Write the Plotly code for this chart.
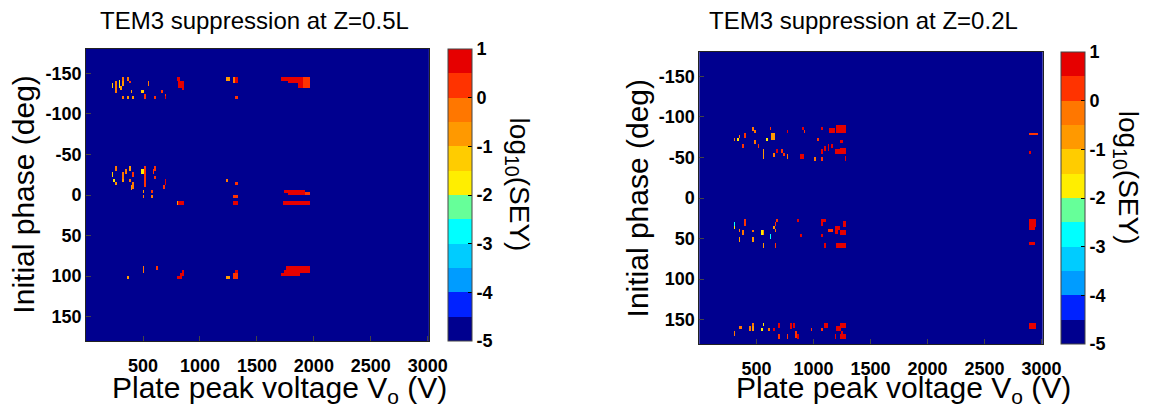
import numpy as np
import plotly.graph_objects as go

# ---------------- grid of the simulation (voltage x phase) ----------------
V_MIN, V_MAX, DV = 0, 3000, 15
PH_MIN, PH_MAX, DPH = -180, 180, 2

# log10(SEY) levels used for the coloured spots
R, RO, O, LO, G, Y, C = 0.75, 0.25, -0.25, -0.75, -1.25, -1.75, -2.75
BG = -4.75  # suppressed (background) level

# spots: (V_low, V_high, phase_low, phase_high, log10 SEY)
spots_z05 = [
    # phase ~ -140
    (227, 244, -138, -133, G), (250, 262, -139, -132, O), (279, 290, -141.6, -133, Y),
    (296, 308, -134, -130, LO), (308, 320, -145.7, -139, O), (320, 330, -139, -134, LO),
    (262, 273, -131, -126, O), (354, 366, -145.7, -140, O), (371, 383, -141, -138, RO),
    (394, 405, -130, -126, LO), (540, 552, -139, -134, O), (487, 504, -130, -126, G),
    (308, 320, -122, -118, O), (354, 366, -122, -118, LO), (406, 417, -122, -118, LO),
    (504, 515, -125, -118, RO), (602, 614, -122, -118, RO), (660, 671, -130, -126, RO),
    (683, 694, -125, -118, RO), (694, 706, -122, -118, R),
    (798, 827, -145.7, -139, R), (815, 862, -140.8, -133, R), (844, 862, -134, -130, R),
    (1236, 1254, -145.7, -140, LO), (1283, 1298, -145.7, -138, O), (1298, 1335, -145.7, -138, R),
    (1300, 1335, -122, -118, RO),
    (1715, 1966, -145.7, -141, R), (1767, 1966, -141, -138.5, R), (1865, 1966, -138.5, -133, R),
    (1905, 1966, -145.7, -133, RO),
    # phase ~ -20
    (250, 267, -35, -30.6, O), (380, 397, -35, -30.6, LO), (221, 233, -27, -21.6, G),
    (233, 244, -20, -15, Y), (262, 273, -16, -11, LO), (308, 325, -27, -18, O),
    (320, 330, -20, -15, LO), (342, 354, -31, -26, O), (371, 383, -20, -15, O),
    (383, 400, -12, -6, LO), (400, 412, -27, -21.6, RO), (406, 423, -16, -7, O),
    (487, 510, -31, -26, Y), (504, 521, -35.5, -10.9, RO), (498, 515, -6.8, -2.7, LO),
    (498, 510, 0.6, 4.7, O), (567, 579, -6.8, -2.7, RO), (567, 579, 0.6, 4.7, O),
    (579, 590, -31, -26, RO), (602, 614, -35.5, -30.6, RO), (602, 614, -23, -20, RO),
    (683, 700, -20, -11, R), (677, 689, -12, -7, RO),
    (798, 815, 8.8, 13, LO), (815, 862, 8.8, 13, R),
    (1236, 1248, -20, -15, O), (1306, 1335, -15, -11, RO), (1283, 1335, 0.6, 4.7, RO),
    (1283, 1335, 8.8, 13, R),
    (1744, 1917, -6.8, -2.7, R), (1767, 1966, -3.5, 0.6, R), (1917, 1966, -3.5, 0.6, RO),
    (1727, 1966, 8.8, 13, R),
    # phase ~ +95
    (498, 510, 87.8, 96, O), (608, 620, 87.8, 92.7, RO), (360, 377, 100, 104, LO),
    (844, 862, 92.7, 96.8, R), (821, 862, 96, 100, R), (798, 844, 100, 104, R),
    (1236, 1254, 100, 104, LO), (1300, 1335, 92.7, 97, R), (1283, 1335, 97, 104, RO),
    (1756, 1966, 87.8, 96, R), (1738, 1966, 92, 96, R), (1715, 1880, 96, 100, R),
]

spots_z02 = [
    # phase ~ -70
    (460, 472, -88.8, -81.8, O), (477, 489, -85, -80, O), (616, 633, -89, -84, RO),
    (633, 656, -80, -73, LO), (760, 771, -85, -80, R), (898, 915, -89, -84, R),
    (915, 926, -84, -80, RO), (1058, 1070, -89, -85, R), (1145, 1191, -86, -80, R),
    (1202, 1295, -89.6, -79.7, R),
    (293, 304, -74, -70.6, O), (328, 345, -74, -70.6, Y), (339, 356, -78, -74, O),
    (397, 408, -79, -74, RO), (477, 489, -71, -66, O), (506, 518, -66, -62, RO),
    (368, 385, -66, -62, RO), (587, 604, -74, -70.6, Y), (552, 564, -61, -49, LO),
    (650, 662, -56, -50, O), (673, 690, -61, -57, R), (714, 725, -59, -55, RO),
    (737, 748, -57, -53, RO), (760, 777, -54, -49, O), (886, 915, -54, -49, R),
    (1012, 1024, -50, -46, O), (1030, 1041, -74, -70, RO), (1070, 1087, -50, -46, RO),
    (1058, 1076, -60, -54, R), (1099, 1110, -65, -58, R), (1128, 1145, -66, -58, R),
    (1156, 1168, -66, -62, R), (1191, 1295, -59, -54, R), (1231, 1295, -62, -59, R),
    (1231, 1254, -71, -67, R), (1272, 1295, -51, -46, R),
    (2895, 2970, -81, -78, RO), (2889, 2906, -58, -54, R),
    # phase ~ +40
    (305, 316, 29.5, 34.5, C), (293, 304, 34.5, 38.5, Y), (397, 408, 26, 34.5, RO),
    (345, 356, 38, 42, O), (368, 379, 41, 46, O), (345, 356, 49, 54, LO),
    (460, 477, 49, 54, LO), (466, 477, 39, 42, O), (540, 552, 40, 46, Y),
    (558, 569, 40, 46, LO), (616, 633, 45, 50, C), (639, 656, 34.5, 38.5, LO),
    (656, 667, 30, 34.5, RO), (673, 690, 26, 30, RO), (662, 673, 38, 42, O),
    (552, 564, 57, 62, LO), (656, 667, 57, 62, RO), (857, 869, 26, 30, R),
    (886, 898, 45, 49, R), (1058, 1087, 26, 34.5, R), (1070, 1110, 26, 30, R),
    (1128, 1168, 38, 42, RO), (1191, 1237, 34.5, 40, R), (1191, 1214, 40, 45, R),
    (1254, 1295, 27, 35, R), (1231, 1295, 41, 46, R), (1070, 1082, 45, 49, R),
    (1093, 1110, 57, 62, R), (1197, 1295, 57, 62, R),
    (2889, 2958, 26, 36, R), (2889, 2940, 36, 39, R), (2889, 2947, 53.5, 57.6, R),
    # phase ~ +160
    (460, 472, 154, 158.5, O), (552, 564, 154, 158.5, Y), (351, 368, 158, 162, O),
    (437, 449, 158.5, 163, O), (466, 477, 158.5, 163, LO), (540, 552, 160, 165, Y),
    (305, 316, 165, 170, O), (604, 616, 160, 165, O), (639, 656, 160, 165, R),
    (690, 702, 154, 159, R), (685, 702, 169, 174, RO), (800, 817, 154, 162, R),
    (823, 834, 154, 159, R), (846, 857, 165, 171, RO), (857, 869, 169, 174, R),
    (760, 771, 169, 174, RO), (978, 990, 160, 165, RO), (1099, 1122, 154, 159, R),
    (1070, 1082, 160, 165, RO), (1202, 1243, 158, 165, R), (1231, 1295, 154, 161, R),
    (1243, 1260, 164, 168, R), (1179, 1197, 169, 174, R), (1226, 1295, 169, 174, R),
    (2889, 2958, 154.4, 162, R),
]

x_ticks = [500, 1000, 1500, 2000, 2500, 3000]
y_ticks = [-150, -100, -50, 0, 50, 100, 150]
cb_ticks = [-5, -4, -3, -2, -1, 0, 1]
level_colors = ['#00008F', '#0022FF', '#009CFF', '#00CCFF', '#00FFFF', '#66FF99',
                '#FFEE00', '#FFCC00', '#FF9900', '#FF7700', '#FF3300', '#E60000']
titles = ['TEM3 suppression at Z=0.5L', 'TEM3 suppression at Z=0.2L']


def build_grid(spots):
    nv = int((V_MAX - V_MIN) / DV)
    nph = int((PH_MAX - PH_MIN) / DPH)
    z = np.full((nph, nv), BG)
    for v0, v1, p0, p1, val in spots:
        i0 = int(round((v0 - V_MIN) / DV)); i1 = max(i0, int(round((v1 - V_MIN) / DV)) - 1)
        j0 = int(round((p0 - PH_MIN) / DPH)); j1 = max(j0, int(round((p1 - PH_MIN) / DPH)) - 1)
        z[j0:j1 + 1, i0:i1 + 1] = val
    xs = V_MIN + DV * (np.arange(nv) + 0.5)
    ys = PH_MIN + DPH * (np.arange(nph) + 0.5)
    return xs, ys, z


W, H = 1166, 408
def px(x): return x / W
def py(y): return (H - y) / H

bounds = np.linspace(0, 1, len(level_colors) + 1)
cscale = []
for k, c in enumerate(level_colors):
    cscale += [[bounds[k], c], [bounds[k + 1], c]]

# pixel boxes of the two panels (left, top, right, bottom) and colorbars
panels = [dict(box=(87.5, 49, 436, 341), cb=(455.5, 49, 341)),
          dict(box=(711, 52, 1060, 344), cb=(1079, 52, 344))]

fig = go.Figure()
tickfont = dict(family='Liberation Sans', size=18, color='black', weight='bold')
for k, spots in enumerate([spots_z05, spots_z02]):
    xs, ys, z = build_grid(spots)
    l, t, r, b = panels[k]['box']
    cbx, cbt, cbb = panels[k]['cb']
    fig.add_trace(go.Heatmap(
        x=xs, y=ys, z=z, zmin=-5, zmax=1, colorscale=cscale, zsmooth=False,
        xaxis='x' if k == 0 else 'x2', yaxis='y' if k == 0 else 'y2',
        hoverinfo='skip',
        colorbar=dict(
            x=px(cbx), xanchor='left', xpad=0, ypad=0,
            y=py((cbt + cbb) / 2), yanchor='middle',
            len=cbb - cbt, lenmode='pixels', thickness=24, thicknessmode='pixels',
            outlinewidth=1, outlinecolor='#444',
            tickvals=cb_ticks, ticktext=[str(v) for v in cb_ticks],
            ticks='inside', ticklen=4, tickcolor='black', tickfont=tickfont,
        )))
    ax = dict(domain=[px(l), px(r)], range=[0, 3010], tickvals=x_ticks,
              ticktext=[str(v) for v in x_ticks], ticks='inside', ticklen=5,
              showline=True, mirror=True, linecolor='#222', linewidth=1,
              showgrid=False, zeroline=False, tickfont=tickfont, ticklabelstandoff=8,
              anchor='y' if k == 0 else 'y2')
    ay = dict(domain=[py(b), py(t)], range=[180, -180], tickvals=y_ticks,
              ticktext=[str(v) for v in y_ticks], ticks='inside', ticklen=5,
              showline=True, mirror=True, linecolor='#222', linewidth=1,
              showgrid=False, zeroline=False, tickfont=tickfont,
              anchor='x' if k == 0 else 'x2')
    if k == 0:
        fig.update_layout(xaxis=ax, yaxis=ay)
    else:
        fig.update_layout(xaxis2=ax, yaxis2=ay)

labfont = dict(family='Liberation Sans', size=30, color='black')
cbfont = dict(family='Liberation Sans', size=28, color='black')
ann = []
title_x = [259, 878]
ylab_x = [23, 648]
xlab_x = [284, 918]
cblab = [(527, 185), (1146, 178)]
for k in range(2):
    l, t, r, b = panels[k]['box']
    ann.append(dict(text=titles[k], x=px(title_x[k]), y=py(20), xref='paper', yref='paper',
                    showarrow=False, xanchor='center', yanchor='middle',
                    font=dict(family='Liberation Sans', size=24, color='black')))
    ann.append(dict(text='Initial phase (deg)', x=px(ylab_x[k]), y=py((t + b) / 2),
                    xref='paper', yref='paper', showarrow=False, textangle=-90,
                    xanchor='center', yanchor='middle', font=labfont))
    ann.append(dict(text='Plate peak voltage V<sub>o</sub> (V)', x=px(xlab_x[k]), y=py(389),
                    xref='paper', yref='paper', showarrow=False,
                    xanchor='center', yanchor='middle', font=labfont))
    ann.append(dict(text='log<sub>10</sub>(SEY)', x=px(cblab[k][0]), y=py(cblab[k][1]),
                    xref='paper', yref='paper', showarrow=False, textangle=90,
                    xanchor='center', yanchor='middle', font=cbfont))

fig.update_layout(width=W, height=H, margin=dict(l=0, r=0, t=0, b=0),
                  paper_bgcolor='white', plot_bgcolor='#00008F',
                  showlegend=False, annotations=ann)
fig.write_html('out.html')
